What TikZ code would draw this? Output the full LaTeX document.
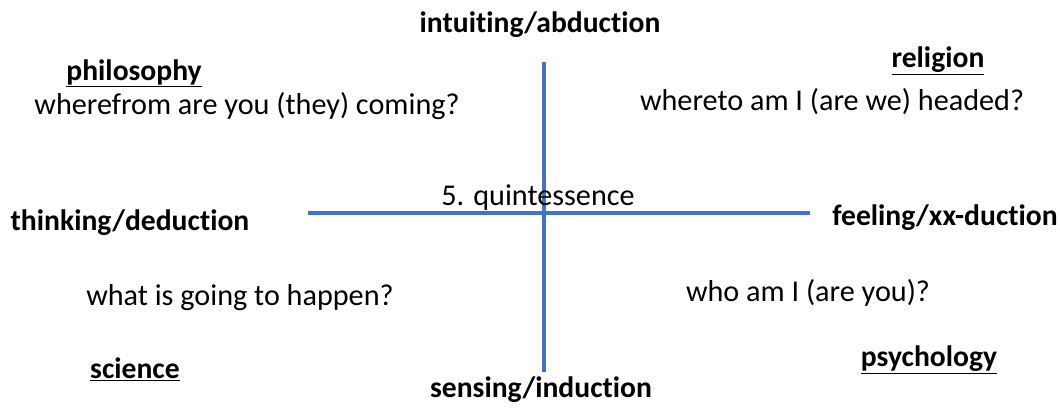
\documentclass[tikz,border=0pt]{standalone}
\usepackage{fontspec}
\setmainfont{Carlito}[Ligatures={NoCommon}]
\usepackage{tikz}
\usetikzlibrary{positioning}
\definecolor{axisblue}{HTML}{4472C4}

\begin{document}
\begin{tikzpicture}[x=1pt,y=-1pt,
			pole/.style={font=\fontsize{29.6}{34}\selectfont\bfseries,inner sep=0pt},
			field/.style={font=\fontsize{29.6}{34}\selectfont\bfseries,inner sep=0pt},
			quest/.style={font=\fontsize{30.2}{34}\selectfont,inner sep=0pt},
			axis/.style={axisblue,line width=4.5pt}
			]
			\useasboundingbox (0,0) rectangle (1060,407);
			% axes
			\coordinate (top) at (544,62);
			\coordinate (bot) at (544,372);
			\coordinate (lft) at (308,213);
			\coordinate (rgt) at (810,213);
			\draw[axis] (top) -- (bot);
			\draw[axis] (lft) -- (rgt);
			% poles
			\node[pole] (intu) at (540,25) {intuiting/abduction};
			\node[pole] (sens) at (541,390) {sensing/induction};
			\node[pole] (think) at (130,223) {thinking/deduction};
			\node[pole] (feel) at (945,218) {feeling/xx-duction};
			\node[quest] (quint) at (538,198) {5. quintessence};
			% fields
			\node[field] (phil) at (134,73) {\underline{philosophy}};
			\node[field] (reli) at (938,61) {\underline{religion}};
			\node[field] (scie) at (135,369) {\underline{science}};
			\node[field] (psych) at (929,360) {\underline{psychology}};
			% questions
			\node[quest] (wfrom) at (247,106) {wherefrom are you (they) coming?};
			\node[quest] (wto) at (832,102) {whereto am I (are we) headed?};
			\node[quest] (what) at (240,298) {what is going to happen?};
			\node[quest] (who) at (808,293) {who am I (are you)?};
		\end{tikzpicture}
\end{document}
